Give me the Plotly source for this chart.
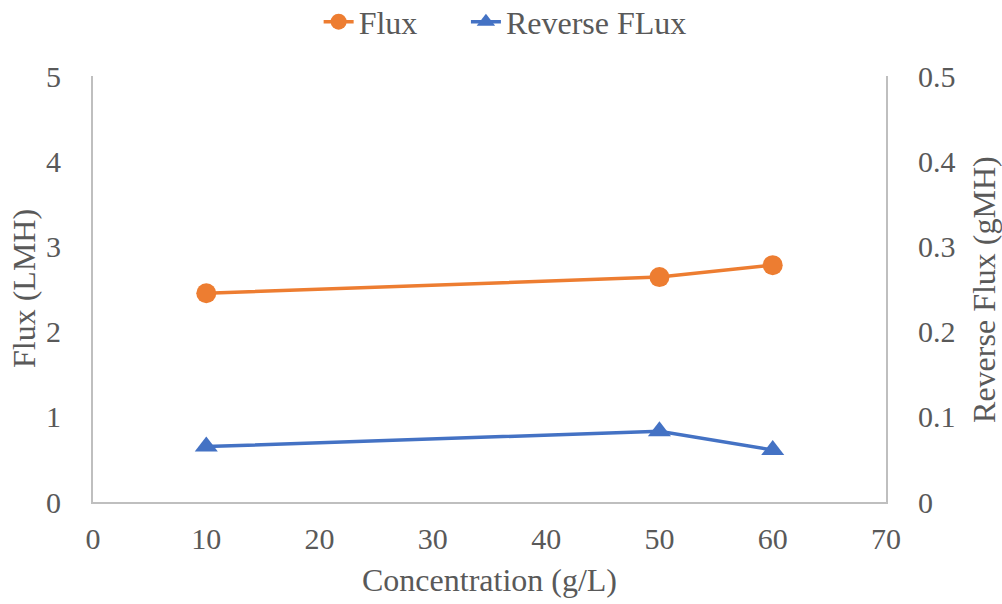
import plotly.graph_objects as go

concentration = [10, 50, 60]
flux = [2.45, 2.64, 2.78]
reverse_flux = [0.065, 0.083, 0.061]

x_ticks = [0, 10, 20, 30, 40, 50, 60, 70]
y_left_ticks = [0, 1, 2, 3, 4, 5]
y_right_ticks = [0, 0.1, 0.2, 0.3, 0.4, 0.5]

FONT = "Liberation Serif"
GREY = "#595959"
AXIS = "#BFBFBF"
TICK = 30
TITLE = 32

fig = go.Figure()
fig.add_trace(go.Scatter(
    x=concentration, y=flux, name="Flux", mode="lines+markers",
    line=dict(color="#ED7D31", width=3.5),
    marker=dict(symbol="circle", size=20, color="#ED7D31"),
    yaxis="y", legend="legend"))
fig.add_trace(go.Scatter(
    x=concentration, y=reverse_flux, name="Reverse FLux", mode="lines+markers",
    line=dict(color="#4472C4", width=3.5),
    marker=dict(symbol="triangle-up", size=20, color="#4472C4"),
    yaxis="y2", legend="legend2"))

legend_common = dict(orientation="h", xanchor="left", yanchor="middle",
                     xref="container", yref="paper", y=1.127,
                     font=dict(family=FONT, size=TITLE, color=GREY),
                     bgcolor="rgba(0,0,0,0)")

fig.update_layout(
    width=1002, height=604,
    margin=dict(l=93, r=116, t=76, b=102, autoexpand=False),
    paper_bgcolor="white", plot_bgcolor="white",
    font=dict(family=FONT, size=TICK, color=GREY),
    showlegend=True,
    legend=dict(x=0.318, **legend_common),
    legend2=dict(x=0.465, **legend_common),
    xaxis=dict(range=[0, 70], tickvals=x_ticks, showgrid=False, zeroline=False,
               showline=True, linecolor=AXIS, linewidth=2, ticks="",
               tickfont=dict(size=TICK), ticklabelstandoff=9,
               title=dict(text="Concentration (g/L)", font=dict(family=FONT, size=TITLE, color=GREY), standoff=15)),
    yaxis=dict(range=[0, 5], tickvals=y_left_ticks, showgrid=False, zeroline=False,
               showline=True, linecolor=AXIS, linewidth=2, ticks="",
               tickfont=dict(size=TICK), ticklabelstandoff=24),
    yaxis2=dict(range=[0, 0.5], tickvals=y_right_ticks, overlaying="y", side="right",
                showgrid=False, zeroline=False, showline=True, linecolor=AXIS, linewidth=2,
                ticks="", tickfont=dict(size=TICK), ticklabelstandoff=24),
    annotations=[
        dict(text="Flux (LMH)", textangle=-90, xref="paper", yref="paper",
             x=-0.087, y=0.5, xanchor="center", yanchor="middle", showarrow=False,
             font=dict(family=FONT, size=TITLE, color=GREY)),
        dict(text="Reverse Flux (gMH)", textangle=-90, xref="paper", yref="paper",
             x=1.1235, y=0.5, xanchor="center", yanchor="middle", showarrow=False,
             font=dict(family=FONT, size=TITLE, color=GREY)),
    ],
)

fig.write_html("out.html")
